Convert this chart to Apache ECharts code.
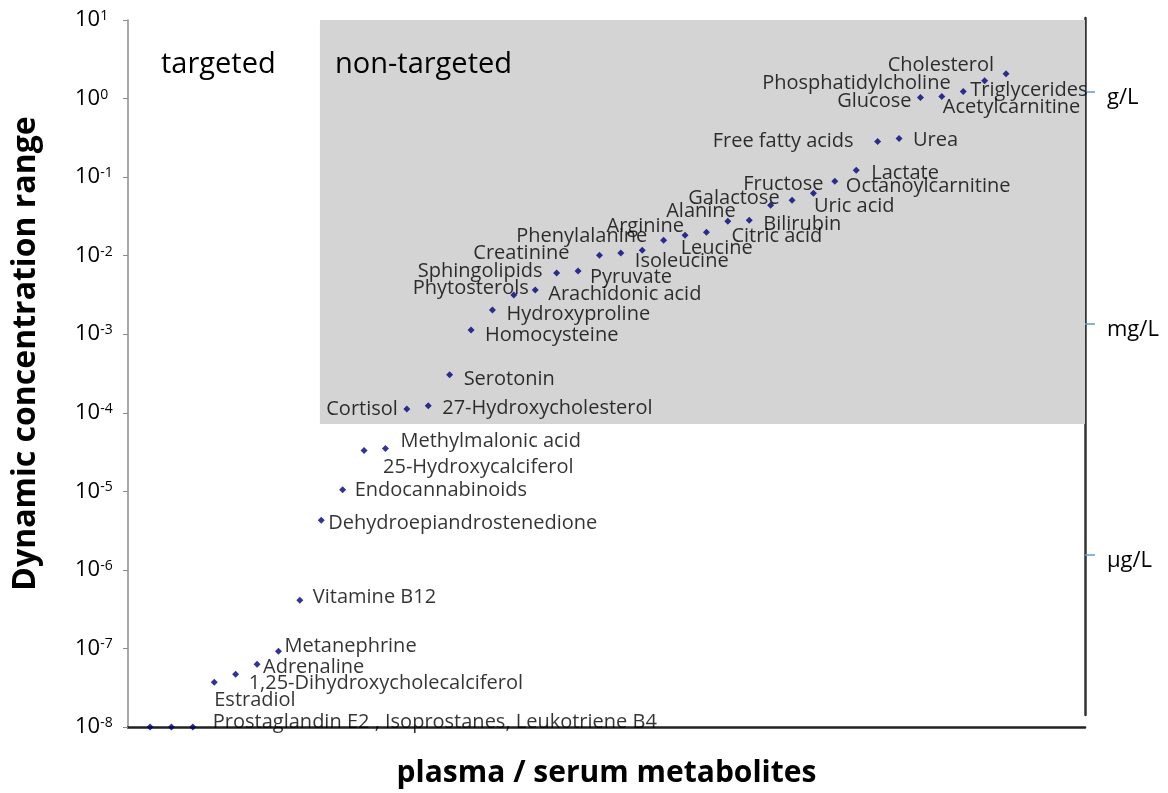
<!DOCTYPE html>
<html>
<head>
<meta charset="utf-8">
<script src="https://cdn.jsdelivr.net/npm/echarts@6/dist/echarts.min.js"></script>
<style>html,body{margin:0;padding:0;background:#fff}#c{width:1168px;height:793px}</style>
</head>
<body>
<div id="c"></div>
<script>
// ---- data ----
const names = [
  'Prostaglandin E2', 'Isoprostanes', 'Leukotriene B4', 'Estradiol',
  '1,25-Dihydroxycholecalciferol', 'Adrenaline', 'Metanephrine', 'Vitamine B12',
  'Dehydroepiandrostenedione', 'Endocannabinoids', '25-Hydroxycalciferol', 'Methylmalonic acid',
  'Cortisol', '27-Hydroxycholesterol', 'Serotonin', 'Homocysteine', 'Hydroxyproline',
  'Phytosterols', 'Arachidonic acid', 'Sphingolipids', 'Pyruvate', 'Creatinine',
  'Isoleucine', 'Phenylalanine', 'Leucine', 'Arginine', 'Citric acid', 'Alanine',
  'Bilirubin', 'Galactose', 'Uric acid', 'Fructose', 'Octanoylcarnitine', 'Lactate',
  'Free fatty acids', 'Urea', 'Glucose', 'Acetylcarnitine', 'Triglycerides',
  'Phosphatidylcholine', 'Cholesterol'
];
const concentrations = [
  1e-8, 1e-8, 1e-8, 3.7e-8,
  4.7e-8, 6.3e-8, 9.2e-8, 4.1e-7,
  4.3e-6, 1.05e-5, 3.3e-5, 3.5e-5,
  1.12e-4, 1.23e-4, 3.04e-4, 1.13e-3, 2.03e-3,
  3.15e-3, 3.65e-3, 6.0e-3, 6.36e-3, 1.01e-2,
  1.08e-2, 1.17e-2, 1.57e-2, 1.82e-2, 1.99e-2, 2.74e-2,
  2.82e-2, 4.38e-2, 5.07e-2, 6.22e-2, 8.84e-2, 0.122,
  0.284, 0.311, 1.03, 1.06, 1.23,
  1.69, 2.07
];
const unitLabels = ['g/L', 'mg/L', 'µg/L'];
const unitValues = [1, 1e-3, 1e-6];
const regionLabels = ['targeted', 'non-targeted'];
const nonTargetedStart = 7.94;      // between Vitamine B12 and DHEA
const nonTargetedMinConc = 7.2e-5;  // lower bound of the shaded region

// ---- label layout (separate from data) ----
const labelSide = ['r','r','r','r','r','r','r','r','r','r','r','r','l','r','r','r','r','l','r','l','r','l','r','l','r','l','r','l','r','l','r','l','r','r','l','r','l','r','r','l','l'];
const labelOff = [[0,0],[0,0],[20,-8],[0,15],[13,6],[6,0],[6,-8],[13,-6],[7,0],[12,-2],[19,14],[15,-10],
  [-9,-3],[14,0],[14,1],[14,2],[14,1],[15,-10],[13,1],[-14,-5],[12,3],[-30,-5],
  [14,5],[5,-17],[17,5],[-1,-12],[25,1],[8,-13],[14,1],[9,-10],[22,3],[10,-12],[11,2],[15,0],
  [-24,-3],[14,-1],[-9,1],[1,8],[7,-4],[-34,0],[-12,-11]];
const LABEL_DY = 3;

const SZ = 7;
const FONT = '"Open Sans", sans-serif';
const xMin = -1.03, xMax = 43.69;

const data = concentrations.map((v, i) => {
  const right = labelSide[i] === 'r';
  const item = {
    name: names[i],
    value: [i, v],
    label: {
      show: i > 1,
      position: right ? 'right' : 'left',
      distance: 0,
      offset: [right ? labelOff[i][0] - SZ / 2 : labelOff[i][0] + SZ / 2, labelOff[i][1] + LABEL_DY]
    }
  };
  if (i === 2) {
    item.label.formatter = names[0] + ' , ' + names[1] + ', ' + names[2];
  }
  return item;
});

const chart = echarts.init(document.getElementById('c'), null, {renderer: 'canvas'});
chart.setOption({
  animation: false,
  backgroundColor: '#fff',
  textStyle: {fontFamily: FONT},
  grid: [
    {left: 128, right: 83, top: 20, bottom: 63},
    {left: 128, right: 83, top: 18, bottom: 78}
  ],
  xAxis: [
    {
      type: 'value', gridIndex: 0, min: xMin, max: xMax,
      axisLine: {show: true, onZero: false, lineStyle: {color: '#222', width: 2.5}},
      axisTick: {show: false}, axisLabel: {show: false}, splitLine: {show: false},
      name: 'plasma / serum metabolites', nameLocation: 'middle', nameGap: 31,
      nameTextStyle: {fontFamily: FONT, fontSize: 30, fontWeight: 'bold', color: '#000'}
    },
    {type: 'value', gridIndex: 1, show: false, min: 0, max: 1}
  ],
  yAxis: [
    {
      type: 'log', logBase: 10, gridIndex: 0, min: 1e-8, max: 10, splitNumber: 9,
      position: 'left',
      axisLine: {show: true, onZero: false, lineStyle: {color: '#8c8c8c', width: 1.5}},
      axisTick: {show: true, length: 5, inside: false, lineStyle: {color: '#8c8c8c', width: 1}},
      splitLine: {show: false},
      axisLabel: {
        align: 'left', margin: 53,
        formatter: v => '{b|10}{s|' + Math.round(Math.log10(v)) + '}',
        rich: {
          b: {fontFamily: FONT, fontSize: 22, color: '#000', lineHeight: 22},
          s: {fontFamily: FONT, fontSize: 14, color: '#000', lineHeight: 13, verticalAlign: 'top'}
        }
      },
      name: 'Dynamic concentration range', nameLocation: 'middle', nameGap: 86, nameRotate: 90,
      nameTextStyle: {fontFamily: FONT, fontSize: 32, fontWeight: 'bold', color: '#000', padding: [0, 0, 0, 40]}
    },
    {
      type: 'value', gridIndex: 1, position: 'right', min: -8.07, max: 0.96,
      axisLine: {show: true, onZero: false, lineStyle: {color: '#333', width: 2.5}},
      axisTick: {show: true, inside: false, length: 10, customValues: unitValues.map(Math.log10),
        lineStyle: {color: '#5b9bd5', width: 1.5}},
      splitLine: {show: false},
      axisLabel: {
        margin: 22, customValues: unitValues.map(Math.log10),
        formatter: v => unitLabels[unitValues.findIndex(u => Math.abs(Math.log10(u) - v) < 1e-6)],
        fontFamily: FONT, fontSize: 22, color: '#000', verticalAlign: 'top', lineHeight: 12
      }
    }
  ],
  series: [
    {
      type: 'scatter', xAxisIndex: 0, yAxisIndex: 0,
      symbol: 'diamond', symbolSize: SZ,
      itemStyle: {color: '#00007a'},
      label: {fontFamily: FONT, fontSize: 20, color: '#000', formatter: '{b}'},
      emphasis: {disabled: true},
      data: data,
      markArea: {
        silent: true,
        data: [
          [
            {coord: [xMin, nonTargetedMinConc], itemStyle: {color: 'rgba(0,0,0,0)'},
             label: {show: true, formatter: regionLabels[0], position: 'insideTopLeft', distance: 0, offset: [33, 30],
                     fontFamily: FONT, fontSize: 29, color: '#000'}},
            {coord: [nonTargetedStart, 10]}
          ],
          [
            {coord: [nonTargetedStart, nonTargetedMinConc], itemStyle: {color: '#d4d4d4'},
             label: {show: true, formatter: regionLabels[1], position: 'insideTopLeft', distance: 0, offset: [15, 30],
                     fontFamily: FONT, fontSize: 29, color: '#000'}},
            {coord: [xMax, 10]}
          ]
        ]
      }
    }
  ]
});
</script>
</body>
</html>
